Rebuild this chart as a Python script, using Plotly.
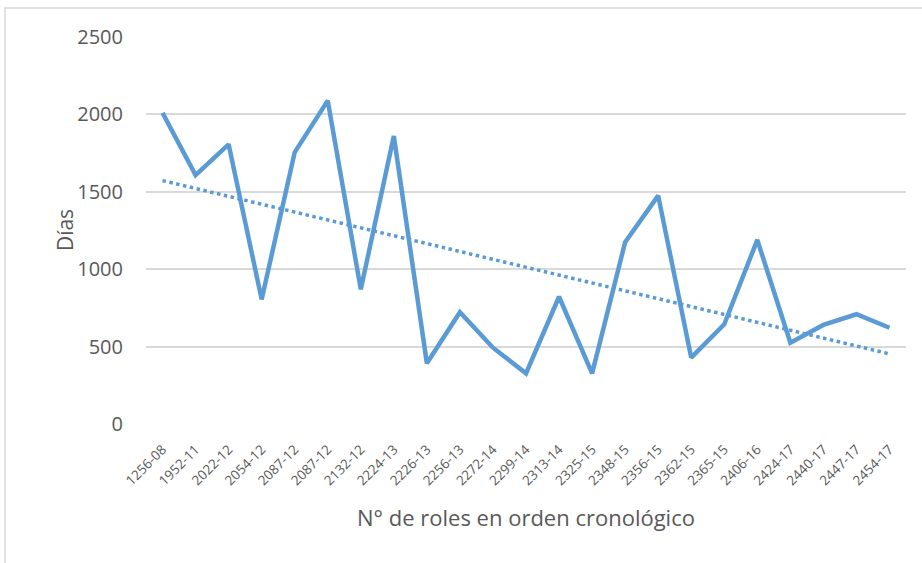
import numpy as np
import plotly.graph_objects as go

categories = ["1256-08", "1952-11", "2022-12", "2054-12", "2087-12", "2087-12",
              "2132-12", "2224-13", "2226-13", "2256-13", "2272-14", "2299-14",
              "2313-14", "2325-15", "2348-15", "2356-15", "2362-15", "2365-15",
              "2406-16", "2424-17", "2440-17", "2447-17", "2454-17"]
dias = [2010, 1608, 1807, 805, 1755, 2089, 870, 1860, 392, 722, 493, 327,
        822, 327, 1174, 1475, 429, 644, 1189, 525, 640, 709, 622]
y_ticks = [0, 500, 1000, 1500, 2000, 2500]

x = np.arange(len(categories))
slope, intercept = np.polyfit(x + 1, dias, 1)
trend = slope * (x + 1) + intercept

color = "#5B9BD5"
fig = go.Figure()
fig.add_trace(go.Scatter(x=x, y=dias, mode="lines",
                         line=dict(color=color, width=4.5), showlegend=False))
fig.add_trace(go.Scatter(x=x, y=trend, mode="lines",
                         line=dict(color=color, width=3.5, dash="dot"), showlegend=False))

font = "Open Sans"
fig.update_layout(
    width=922, height=563,
    margin=dict(l=146, r=16, t=37, b=139, autoexpand=False),
    paper_bgcolor="white", plot_bgcolor="white",
    font=dict(family=font, color="#595959"),
    xaxis=dict(range=[-0.5, len(categories) - 0.5], tickmode="array",
               tickvals=list(x), ticktext=categories, tickangle=-45,
               tickfont=dict(size=13.5, color="#595959"), showgrid=False,
               zeroline=False, showline=False, ticks="", automargin=False,
               ticklabelstandoff=14,
               title=dict(text="N° de roles en orden cronológico",
                          font=dict(size=22, color="#595959"), standoff=22)),
    yaxis=dict(range=[0, 2500], tickmode="array", tickvals=y_ticks,
               tickfont=dict(size=20, color="#595959"), showgrid=True,
               gridcolor="#D9D9D9", gridwidth=1.5, zeroline=False,
               showline=False, ticks="", ticklabelstandoff=22, automargin=False),
    annotations=[dict(text="Días", xref="paper", yref="paper",
                      x=-0.1066, y=0.501, textangle=-90, showarrow=False,
                      xanchor="center", yanchor="middle",
                      font=dict(size=21, color="#595959", family=font))],
    shapes=[dict(type="rect", xref="paper", yref="paper",
                 x0=-0.1855, x1=1.2, y0=-0.6, y1=1.075,
                 line=dict(color="#D9D9D9", width=1.5), layer="below")],
)

fig.write_html("out.html", config={"displayModeBar": False},
               post_script="document.body.style.margin='0';")
